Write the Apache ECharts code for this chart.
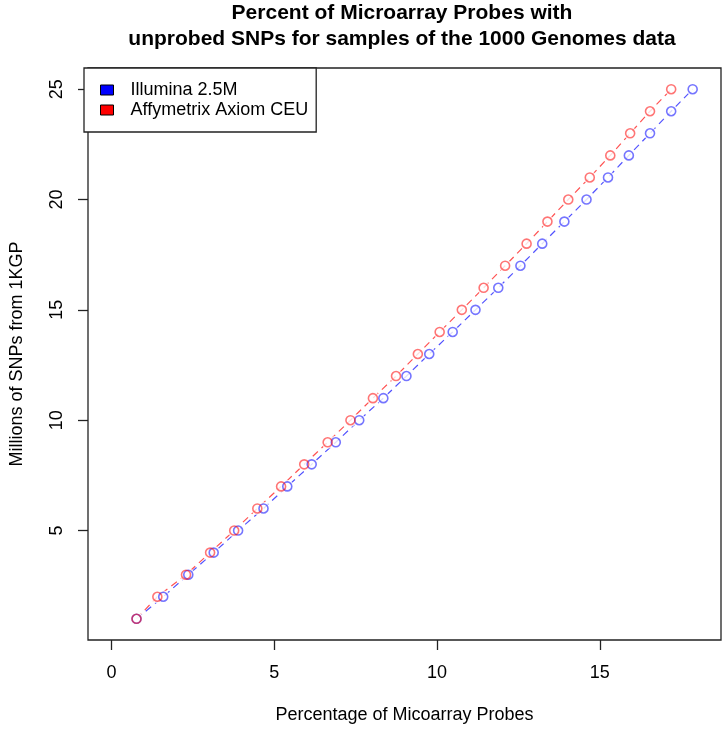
<!DOCTYPE html>
<html>
<head>
<meta charset="utf-8">
<script src="https://cdn.jsdelivr.net/npm/echarts@6/dist/echarts.min.js"></script>
<style>
  html, body { margin: 0; padding: 0; background: #fff; }
  #myChart { width: 726px; height: 729px; }
</style>
</head>
<body>
<div id="myChart"></div>
<script>
// values
var snpMillions = [1, 2, 3, 4, 5, 6, 7, 8, 9, 10, 11, 12, 13, 14, 15, 16, 17, 18, 19, 20, 21, 22, 23, 24, 25];
var illuminaPct = [0.77, 1.59, 2.36, 3.14, 3.89, 4.67, 5.40, 6.15, 6.89, 7.61, 8.35, 9.06, 9.76, 10.48, 11.18, 11.88, 12.56, 13.23, 13.91, 14.59, 15.25, 15.89, 16.54, 17.19, 17.85];
var affyPct = [0.77, 1.41, 2.29, 3.03, 3.77, 4.48, 5.21, 5.92, 6.64, 7.34, 8.03, 8.74, 9.41, 10.08, 10.76, 11.43, 12.09, 12.75, 13.39, 14.03, 14.69, 15.32, 15.93, 16.54, 17.19];
var xTicks = [0, 5, 10, 15];
var yTicks = [5, 10, 15, 20, 25];

var FONT = "'Liberation Sans', Arial, sans-serif";
var blue = 'rgba(0,0,255,0.68)';
var red = 'rgba(255,0,0,0.68)';

function pairs(xs) {
  return xs.map(function (x, i) { return [x, snpMillions[i]]; });
}

// line + white gap under the points + open circle, like R type="b"
function lineSeries(data, color) {
  return {
    type: 'line', data: data, symbol: 'none', silent: true, z: 2,
    lineStyle: { color: color, width: 1.2, type: [7, 5] }
  };
}
function maskSeries(data) {
  return {
    type: 'scatter', data: data, symbol: 'circle', symbolSize: 13, silent: true, z: 3,
    itemStyle: { color: '#fff' }
  };
}
function pointSeries(name, data, color) {
  return {
    name: name, type: 'scatter', data: data, symbol: 'circle', symbolSize: 9, z: 4,
    itemStyle: { color: 'rgba(0,0,0,0)', borderColor: color, borderWidth: 1.6 }
  };
}

var illumina = pairs(illuminaPct);
var affy = pairs(affyPct);

var option = {
  animation: false,
  backgroundColor: '#fff',
  textStyle: { fontFamily: FONT },
  graphic: [
    { type: 'text', x: 402, y: 13, style: { text: 'Percent of Microarray Probes with', align: 'center', verticalAlign: 'middle', font: "bold 21px " + FONT, fill: '#000' } },
    { type: 'text', x: 402, y: 39, style: { text: 'unprobed SNPs for samples of the 1000 Genomes data', align: 'center', verticalAlign: 'middle', font: "bold 21px " + FONT, fill: '#000' } }
  ],
  grid: {
    left: 84, top: 68, right: 5, bottom: 89,
    show: true, borderColor: '#222', borderWidth: 1.3
  },
  legend: {
    orient: 'vertical', left: 84, top: 68,
    padding: [13, 8, 13, 16], itemGap: 2,
    itemWidth: 13, itemHeight: 10,
    backgroundColor: '#fff', borderColor: '#222', borderWidth: 1.3,
    textStyle: { fontFamily: FONT, fontSize: 18, color: '#000', padding: [0, 0, 0, 12] },
    data: [
      { name: 'Illumina 2.5M', icon: 'rect', itemStyle: { color: '#0000ff', opacity: 1, borderColor: '#000', borderWidth: 1 } },
      { name: 'Affymetrix Axiom CEU', icon: 'rect', itemStyle: { color: '#ff0000', opacity: 1, borderColor: '#000', borderWidth: 1 } }
    ]
  },
  xAxis: {
    type: 'value', min: -0.72, max: 18.72,
    name: 'Percentage of Micoarray Probes', nameLocation: 'middle', nameGap: 66,
    nameTextStyle: { fontFamily: FONT, fontSize: 18, color: '#000' },
    axisLine: { show: false, onZero: false },
    splitLine: { show: false },
    axisTick: { show: true, length: 10, lineStyle: { color: '#222', width: 1.3 }, customValues: xTicks },
    axisLabel: { fontFamily: FONT, fontSize: 18, color: '#000', margin: 24, customValues: xTicks }
  },
  yAxis: {
    type: 'value', min: 0.04, max: 25.96,
    name: 'Millions of SNPs from 1KGP', nameLocation: 'middle', nameGap: 62, nameRotate: 90,
    nameTextStyle: { fontFamily: FONT, fontSize: 18, color: '#000' },
    axisLine: { show: false, onZero: false },
    splitLine: { show: false },
    axisTick: { show: true, length: 10, lineStyle: { color: '#222', width: 1.3 }, customValues: yTicks },
    axisLabel: { fontFamily: FONT, fontSize: 18, color: '#000', margin: 22, rotate: 90, customValues: yTicks }
  },
  series: [
    lineSeries(illumina, blue),
    lineSeries(affy, red),
    maskSeries(illumina),
    maskSeries(affy),
    pointSeries('Illumina 2.5M', illumina, blue),
    pointSeries('Affymetrix Axiom CEU', affy, red)
  ]
};

var myChart = echarts.init(document.getElementById('myChart'));
myChart.setOption(option);
</script>
</body>
</html>
